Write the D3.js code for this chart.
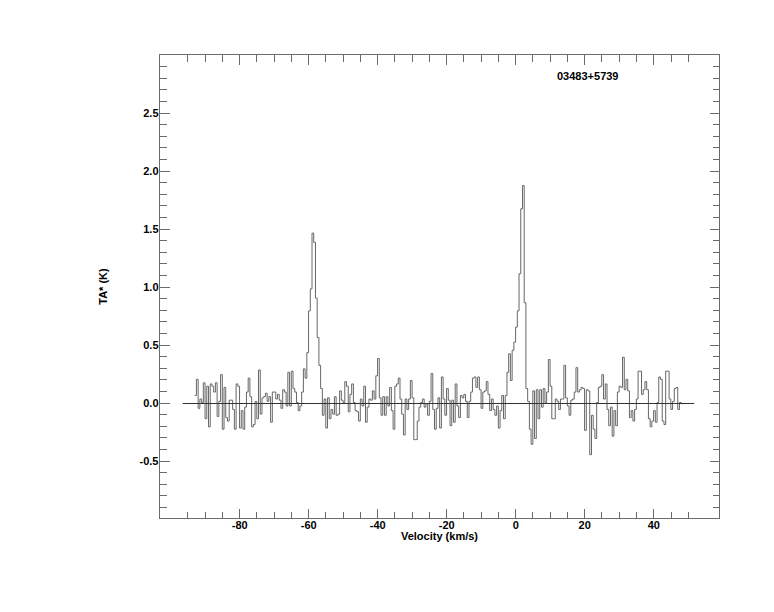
<!DOCTYPE html>
<html><head><meta charset="utf-8">
<script src="https://cdn.jsdelivr.net/npm/d3@7"></script>
<style>body{margin:0;background:#fff}svg text{font-family:"Liberation Sans",Arial,Helvetica,sans-serif;font-weight:bold;font-size:11px;fill:#000}</style>
</head><body><svg id="c" width="774" height="612"></svg>
<script>
// ---- data ----
const sourceName = "03483+5739";
const firstChannelEdge = -92.9;   // km/s, left edge of first channel
const channelWidth = 0.5;         // km/s
const tempBlueWing = [0.06,0.20,-0.05,0.03,0.00,0.17,-0.14,0.14,-0.21,0.16,
  0.14,0.09,0.17,-0.12,0.01,0.24,-0.23,0.13,-0.13,-0.16,
  0.02,0.02,-0.06,-0.23,0.16,0.14,-0.22,-0.07,-0.23,-0.04,
  0.09,0.21,0.05,-0.21,-0.19,0.01,-0.14,0.28,-0.10,0.04,
  0.05,0.08,0.01,0.05,-0.17,0.09,0.09,0.03,0.07,0.02,
  -0.05,0.11,0.09,-0.03,0.26,-0.03,0.27,0.12,0.09,0.00,
  -0.07,-0.03,0.09,0.29,0.21];
const tempPeakA = [0.43,0.79,0.98,1.46,1.38,0.90,0.56,0.32];
const tempMidA = [0.12,-0.11,0.03,-0.22,0.04,-0.14,-0.06,-0.10,0.05,-0.11,
  -0.10,0.10,0.02,0.00,0.18,0.14,-0.08,0.07,0.16,0.00,
  -0.07,-0.08,-0.16,0.03,-0.03,0.14,-0.17,-0.04,0.03,0.02,
  0.10,0.03,0.23,0.38,0.04,-0.11,0.05,-0.11,0.05,-0.03,
  0.13,-0.07,-0.23,0.14,0.16,0.21,0.03,-0.10,-0.28,0.03,
  -0.06,0.03,0.19,0.04,-0.32,-0.32,-0.16,-0.04,0.00,0.03,
  -0.04,-0.01,-0.11,0.01,0.25,-0.06,-0.23];
const tempMidB = [-0.05,0.04,-0.22,0.22,0.03,-0.11,0.12,0.02,-0.20,0.02,
  -0.17,0.16,-0.03,-0.13,0.06,0.04,0.07,0.01,-0.13,0.01,
  0.09,0.21,0.22,0.13,0.22,0.11,-0.05,0.09,0.10,0.18,
  0.07,-0.07,0.03,-0.06,-0.11,-0.03,-0.22,-0.07,0.06,-0.14,
  0.06,0.26,0.42,0.19];
const tempPeakB = [0.45,0.52,0.65,0.79,1.11,1.67,1.87,0.86];
const tempRedA = [0.12,0.01,-0.23,-0.36,0.10,-0.31,0.11,-0.14,0.11,-0.04,
  0.12,0.00,0.09,0.37,0.14,-0.14,-0.14,0.03,0.01,-0.06,
  0.03,0.03,0.32,0.04,-0.03,-0.11,0.02,0.03,0.09,0.30,
  0.09,0.11,0.13,0.12,-0.24,0.11,0.10,-0.45];
const tempRedB = [-0.11,-0.23,-0.31,0.00,0.13,0.14,0.24,0.03,0.16,-0.06,
  -0.20,-0.04,-0.29,-0.07,-0.20,0.09,0.14,0.13,0.39,0.11,
  0.20,0.10,-0.13,-0.07,-0.16,-0.06,0.03,0.27,0.27,0.07,
  0.11,0.18,0.11,-0.14,-0.21,-0.16,-0.07,-0.17,0.00,0.22,
  0.20,-0.16,-0.19,0.27,0.27,0.03,-0.06,0.01,0.12,0.13,
  -0.06,0.00,-0.01];
const baselineRange = [-96.4, 51.9];
const xDomain = [-103.1, 59.2];
const yDomain = [-1, 3];
const xMajorTicks = [-80,-60,-40,-20,0,20,40];
const xMinorTicks = d3.range(-95, 51, 5);
const yMajorTicks = [-0.5,0.0,0.5,1.0,1.5,2.0,2.5];
const yMinorTicks = d3.range(-9, 30).map(d => d / 10);
const xTitle = "Velocity (km/s)";
const yTitle = "TA* (K)";

// ---- chart ----
const temps = [].concat(tempBlueWing, tempPeakA, tempMidA, tempMidB, tempPeakB, tempRedA, tempRedB);
const L = 159.5, R = 719.5, T = 54.5, B = 518.5;
const svg = d3.select("#c");
const x = d3.scaleLinear().domain(xDomain).range([L, R]);
const y = d3.scaleLinear().domain(yDomain).range([B, T]);
const axisColor = "#6b6b6b";

// step spectrum
const pts = temps.map((t, i) => [firstChannelEdge + i * channelWidth, t]);
pts.push([firstChannelEdge + temps.length * channelWidth, temps[temps.length - 1]]);
const line = d3.line().x(d => x(d[0])).y(d => y(d[1])).curve(d3.curveStepAfter);
svg.append("path").attr("d", line(pts)).attr("fill", "none")
  .attr("stroke", "#666").attr("stroke-width", 1);

// zero baseline
svg.append("line").attr("x1", x(baselineRange[0])).attr("x2", x(baselineRange[1]))
  .attr("y1", Math.round(y(0)) + 0.5).attr("y2", Math.round(y(0)) + 0.5)
  .attr("stroke", "#333").attr("stroke-width", 1);

function styleAxis(g) {
  g.selectAll(".domain").remove();
  g.selectAll("line").attr("stroke", axisColor).attr("shape-rendering", "crispEdges");
  g.selectAll("text").attr("fill", "#000").style("font-family", null).style("font-size", null).attr("font-family", null).attr("font-size", null);
}
const fmtY = d => d.toFixed(1);
const fmtX = d => String(d);

// bottom
svg.append("g").attr("transform", `translate(0,${B})`)
  .call(d3.axisBottom(x).tickValues(xMinorTicks).tickSize(-7).tickFormat("")).call(styleAxis);
svg.append("g").attr("transform", `translate(0,${B})`)
  .call(d3.axisBottom(x).tickValues(xMajorTicks).tickSize(-10).tickPadding(3).tickFormat(fmtX)).call(styleAxis);
// top
svg.append("g").attr("transform", `translate(0,${T})`)
  .call(d3.axisTop(x).tickValues(xMinorTicks).tickSize(-7).tickFormat("")).call(styleAxis);
svg.append("g").attr("transform", `translate(0,${T})`)
  .call(d3.axisTop(x).tickValues(xMajorTicks).tickSize(-10).tickFormat("")).call(styleAxis);
// left
svg.append("g").attr("transform", `translate(${L},0)`)
  .call(d3.axisLeft(y).tickValues(yMinorTicks).tickSize(-7).tickFormat("")).call(styleAxis);
svg.append("g").attr("transform", `translate(${L},0)`)
  .call(d3.axisLeft(y).tickValues(yMajorTicks).tickSize(-10).tickPadding(1).tickFormat(fmtY)).call(styleAxis);
// right
svg.append("g").attr("transform", `translate(${R},0)`)
  .call(d3.axisRight(y).tickValues(yMinorTicks).tickSize(-7).tickFormat("")).call(styleAxis);
svg.append("g").attr("transform", `translate(${R},0)`)
  .call(d3.axisRight(y).tickValues(yMajorTicks).tickSize(-10).tickFormat("")).call(styleAxis);

// frame
svg.append("rect").attr("x", L).attr("y", T).attr("width", R - L).attr("height", B - T)
  .attr("fill", "none").attr("stroke", axisColor).attr("shape-rendering", "crispEdges");

// titles
svg.append("text").attr("x", (L + R) / 2).attr("y", 540).attr("text-anchor", "middle").text(xTitle);
svg.append("text").attr("transform", `translate(107,${(T + B) / 2 + 0}) rotate(-90)`)
  .attr("text-anchor", "middle").text(yTitle);
svg.append("text").attr("x", 557).attr("y", 80).text(sourceName);
</script></body></html>
